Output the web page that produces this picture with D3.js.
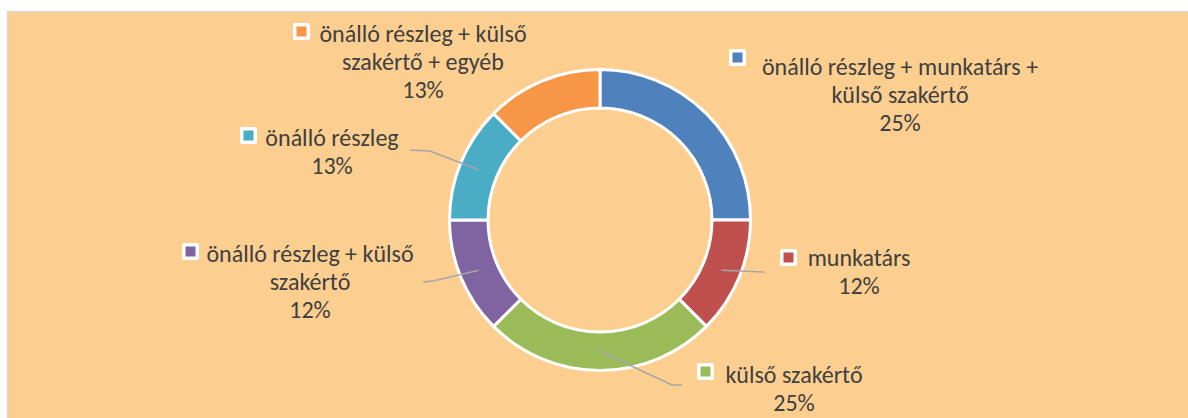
<!DOCTYPE html>
<html>
<head>
<meta charset="utf-8">
<script src="https://cdn.jsdelivr.net/npm/d3@7"></script>
<style>
  body { margin: 0; background: #fff; }
  svg text { font-family: Carlito, Calibri, Lato, sans-serif; fill: #404040; }
</style>
</head>
<body>
<div class="donut-container"></div>
<script>
// slices clockwise from 12 o'clock
const categories = [
    ['önálló részleg + munkatárs +', 'külső szakértő'],
    ['munkatárs'],
    ['külső szakértő'],
    ['önálló részleg + külső', 'szakértő'],
    ['önálló részleg'],
    ['önálló részleg + külső', 'szakértő + egyéb']
];
const shares = [25, 12.5, 25, 12.5, 12.5, 12.5];
const pctLabels = ['25%', '12%', '25%', '12%', '13%', '13%'];
const colors = ['#4F81BD', '#C0504D', '#9BBB59', '#8064A2', '#4BACC6', '#F79646'];

// label layout: text block centre x, first baseline, legend key position, leader points
const labelLayout = [
    { cx: 900, y: 75, key: [729, 49], leader: null },
    { cx: 859, y: 266, key: [780, 249], leader: [[765, 272]] },
    { cx: 794, y: 383, key: [697, 363], leader: [[672, 385], [682, 385]] },
    { cx: 310, y: 262, key: [182, 243], leader: [[433, 281], [423, 282]] },
    { cx: 332, y: 146, key: [240, 127], leader: [[430, 151], [410, 150]] },
    { cx: 423, y: 42, key: [293, 23], leader: null }
];

const width = 1188;
const height = 418;
const center = { x: 600, y: 220 };
const outerR = 150.5;
const innerR = 112;
const lineGap = 28;

const svg = d3.select('.donut-container')
    .append('svg')
    .attr('width', width)
    .attr('height', height);

// chart area background with thin border
svg.append('rect')
    .attr('x', 7.5)
    .attr('y', 11.5)
    .attr('width', width)
    .attr('height', height)
    .style('fill', '#FCCF90')
    .style('stroke', '#D9D9D9')
    .style('stroke-width', 1.5);

const pie = d3.pie().sort(null).value(d => d);
const arcs = pie(shares);
const arc = d3.arc().innerRadius(innerR).outerRadius(outerR);
const midArc = d3.arc().innerRadius((innerR + outerR) / 2).outerRadius((innerR + outerR) / 2);

const g = svg.append('g')
    .attr('transform', `translate(${center.x},${center.y})`);

g.selectAll('.slice')
    .data(arcs)
    .enter()
    .append('path')
    .attr('class', 'slice')
    .attr('d', arc)
    .style('fill', (d, i) => colors[i])
    .style('stroke', '#fff')
    .style('stroke-width', 3);

// leader lines from the ring middle to the labels
const line = d3.line();
arcs.forEach((d, i) => {
    const lay = labelLayout[i];
    if (!lay.leader) return;
    const c = midArc.centroid(d);
    const pts = [[center.x + c[0], center.y + c[1]]].concat(lay.leader);
    svg.append('path')
        .attr('d', line(pts))
        .style('fill', 'none')
        .style('stroke', '#A6A6A6')
        .style('stroke-width', 1.5);
});

// data labels
categories.forEach((lines, i) => {
    const lay = labelLayout[i];
    const label = svg.append('g').attr('class', 'label');

    // legend key
    label.append('rect')
        .attr('x', lay.key[0])
        .attr('y', lay.key[1])
        .attr('width', 17)
        .attr('height', 17)
        .attr('rx', 2)
        .style('fill', '#fff');
    label.append('rect')
        .attr('x', lay.key[0] + 3.5)
        .attr('y', lay.key[1] + 3.5)
        .attr('width', 10)
        .attr('height', 10)
        .style('fill', colors[i]);

    const text = label.append('text')
        .attr('text-anchor', 'middle')
        .style('font-size', '24px');
    lines.concat([pctLabels[i]]).forEach((t, j) => {
        text.append('tspan')
            .attr('x', lay.cx)
            .attr('y', lay.y + j * lineGap)
            .text(t);
    });
});
</script>
</body>
</html>
